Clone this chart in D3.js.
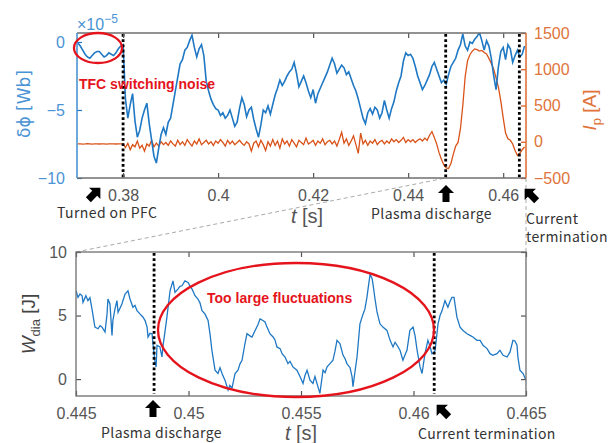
<!DOCTYPE html>
<html><head><meta charset="utf-8">
<script src="https://cdn.jsdelivr.net/npm/d3@7"></script>
<style>
body{margin:0;background:#fff;}
svg{display:block;}
.tick text{font-family:"Liberation Sans",Arial,sans-serif;font-size:16px;}
.ann{font-family:"Noto Sans CJK JP","Noto Sans",sans-serif;font-size:14px;letter-spacing:0.4px;fill:#333;}
.lbl{font-family:"Liberation Sans",Arial,sans-serif;}
</style></head><body>
<svg id="c" width="614" height="443"></svg>
<script>
// ---------- DATA ----------
const topStart = 0.3705, topStep = 0.0005;   // sampling of the upper traces (s)
const dPhi = [ // δφ ×1e-5 Wb
-0.1,-0.3,-0.6,-0.9,-1.1,-1.2,-1.0,-0.8,-0.7,-0.7,-0.9,-1.1,-1.0,-0.8,-0.9,-1.0,-0.8,-0.5,-0.3,-0.2,
-4.2,-5.6,-4.6,-3.8,-5.8,-7.0,-6.5,-5.6,-5.0,-4.5,
-6.0,-7.2,-8.4,-8.9,-7.8,-6.8,-6.3,-6.8,-5.9,-5.6,
-4.6,-3.6,-2.6,-1.6,-1.3,-0.6,-0.4,0.1,0.5,-0.4,
-1.1,-0.5,-0.2,-1.0,-2.9,-3.6,-4.2,-4.6,-4.9,-5.0,
-5.4,-5.2,-5.6,-5.4,-5.0,-5.6,-6.2,-5.9,-4.9,-4.1,
-4.6,-5.5,-5.0,-4.8,-5.7,-6.4,-7.0,-6.1,-5.0,-5.2,
-4.7,-5.3,-4.6,-3.9,-3.4,-2.8,-3.2,-2.9,-2.5,-2.2,
-2.0,-1.5,-2.3,-3.3,-2.9,-2.5,-3.0,-3.6,-4.1,-3.5,
-4.5,-3.8,-3.4,-3.0,-2.6,-2.2,-1.7,-1.2,-1.6,-2.3,
-2.0,-1.7,-1.9,-2.4,-2.2,-2.7,-3.2,-3.6,-4.2,-4.9,
-5.6,-6.0,-5.2,-4.9,-5.3,-4.8,-5.0,-5.6,-5.2,-4.3,
-5.0,-5.6,-4.9,-4.4,-3.6,-3.0,-2.5,-1.4,-0.8,-1.0,
-0.9,-1.2,-1.8,-2.5,-3.0,-3.5,-3.2,-2.8,-2.4,-1.8,
-1.5,-2.0,-2.5,-3.0,-2.8,-3.1,-2.4,-1.8,-1.5,-1.2,
-0.6,-0.2,0.6,-0.3,-0.6,0.0,-0.1,0.2,0.4,0.7,
0.1,-0.6,0.1,-0.3,-1.2,-2.5,-3.5,-1.8,-0.7,-0.4,
-1.3,-0.2,-0.5,-1.5,-1.0,-0.6,-1.1,-0.9,-0.3];
const Ip = [ // plasma current, A
-30,-28,-32,-30,-27,-30,-33,-30,-28,-31,-30,-29,-32,-30,-28,-30,-31,-29,-30,-30,
-80,-20,-110,-40,-70,10,-90,-50,-130,-30,
-60,20,-70,-20,-60,0,-40,-10,-50,10,
-30,-60,20,-40,0,-50,30,-20,-60,10,
-30,40,-40,-10,20,-30,0,-50,10,-20,
30,-10,-60,20,-30,10,-40,-10,20,-20,
-50,0,-30,-130,-20,10,-70,20,-40,-120,
0,-60,30,-50,10,-90,40,-30,10,-60,
30,-20,-70,20,-10,-40,50,-30,-10,20,
-50,10,-20,40,-40,0,20,-30,10,-60,
30,130,-20,40,-50,10,80,-40,-160,120,
-30,20,-50,10,-20,30,-40,0,20,-30,
10,-20,40,0,30,-10,20,60,-10,30,
0,30,-10,20,40,10,50,20,90,140,
60,-30,-150,-240,-320,-360,-370,-300,-170,-60,
-10,180,500,900,1120,1200,1250,1280,1270,1250,
1260,1230,1210,1150,1080,1000,880,750,560,330,
120,40,20,-30,-120,-190,-160,-110,-70];
const wTime = [0.44500,0.44509,0.44518,0.44527,0.44531,0.44544,0.44553,0.44562,0.44571,0.44584,0.44598,0.44607,0.44616,0.44629,0.44638,0.44642,0.44651,0.44660,0.44664,0.44673,0.44682,0.44687,0.44696,0.44704,0.44718,0.44731,0.44740,0.44753,0.44762,0.44771,0.44784,0.44798,0.44807,0.44816,0.44820,0.44829,0.44838,0.44842,0.44851,0.44856,0.44860,0.44873,0.44882,0.44887,0.44896,0.44904,0.44918,0.44931,0.44940,0.44953,0.44962,0.44971,0.44984,0.44998,0.45007,0.45016,0.45029,0.45042,0.45051,0.45060,0.45073,0.45087,0.45096,0.45104,0.45118,0.45131,0.45140,0.45149,0.45162,0.45176,0.45184,0.45193,0.45207,0.45220,0.45229,0.45238,0.45251,0.45260,0.45273,0.45282,0.45296,0.45309,0.45318,0.45331,0.45340,0.45349,0.45362,0.45376,0.45384,0.45393,0.45407,0.45416,0.45429,0.45442,0.45451,0.45464,0.45482,0.45496,0.45509,0.45518,0.45527,0.45540,0.45553,0.45562,0.45571,0.45584,0.45598,0.45607,0.45616,0.45629,0.45642,0.45651,0.45660,0.45673,0.45687,0.45696,0.45704,0.45718,0.45727,0.45731,0.45740,0.45749,0.45762,0.45776,0.45784,0.45793,0.45807,0.45816,0.45820,0.45829,0.45838,0.45851,0.45864,0.45882,0.45896,0.45909,0.45918,0.45927,0.45940,0.45953,0.45962,0.45971,0.45984,0.45998,0.46007,0.46016,0.46029,0.46038,0.46051,0.46064,0.46073,0.46082,0.46091,0.46096,0.46109,0.46118,0.46127,0.46140,0.46153,0.46162,0.46171,0.46180,0.46193,0.46207,0.46220,0.46238,0.46251,0.46264,0.46282,0.46296,0.46309,0.46327,0.46340,0.46353,0.46371,0.46384,0.46398,0.46416,0.46429,0.46442,0.46451,0.46460,0.46464,0.46473,0.46487,0.46500];
const wDia = [6.95,6.43,6.7,6.56,6.04,6.56,6.17,6.4,5.52,4.09,3.96,4.2,4.09,3.70,5.13,6.30,5.91,3.44,4.61,5.5,6.17,5.26,5.6,5.91,6.69,6.95,6.30,5.65,5.8,5.39,5.13,4.87,4.6,4.09,3.31,3.6,3.57,2.79,1.35,0.96,2.66,2.53,1.74,2.66,3.8,4.87,6.95,7.73,6.82,7.08,7.3,7.34,7.73,7.60,7.3,7.08,6.56,6.30,6.0,5.39,5.13,4.61,3.5,2.27,0.70,0.44,0.9,0.44,-0.08,-0.86,-0.5,-0.73,0.44,0.70,1.2,1.48,2.8,3.57,3.4,3.31,3.83,4.3,4.74,4.61,4.5,4.09,3.57,3.31,3.1,2.53,2.4,2.0,1.74,1.22,1.4,0.96,0.70,0.18,-0.34,0.3,0.70,-0.08,-0.34,0.2,-0.34,-1.12,0.70,0.5,0.96,1.22,1.48,2.2,3.05,2.8,1.87,1.6,1.22,0.9,0.18,-0.6,0.6,1.74,4.35,5.13,5.5,6.43,8.26,7.9,7.47,6.3,5.26,4.35,4.09,3.83,3.05,2.53,2.9,2.66,2.27,1.48,1.9,2.27,3.83,4.09,3.4,2.27,0.96,0.44,2.0,3.05,2.6,2.0,2.1,2.27,4.35,5.0,5.39,6.17,5.65,6.1,6.43,6.43,4.87,4.09,3.83,3.57,3.44,3.31,3.05,3.05,2.66,2.40,2.0,1.87,2.0,2.27,1.87,1.74,2.14,3.05,3.0,2.66,1.74,0.70,0.44,-0.08];

const topXTicks = [0.38,0.40,0.42,0.44,0.46];
const topXLabels = ["0.38","0.4","0.42","0.44","0.46"];
const leftTicks = [0,-5,-10];
const rightTicks = [-500,0,500,1000,1500];
const botXTicks = [0.445,0.45,0.455,0.46,0.465];
const botXLabels = ["0.445","0.45","0.455","0.46","0.465"];
const botYTicks = [0,5,10];
const topEvents = [0.38,0.4479,0.4634];   // dotted markers (upper)
const botEvents = [0.44847,0.46092];      // dotted markers (lower)

// ---------- DRAW ----------
const svg = d3.select("#c");
const BLUE="#1f78c4", BLUET="#4a93d4", ORANGE="#d95319", ORANGET="#e0743a", GRAY="#6e6e6e", RED="#e5141c";

const xT = d3.scaleLinear().domain([0.3703,0.4648]).range([77,526]);
const yL = d3.scaleLinear().domain([-10,0.66]).range([178,33]);
const yR = d3.scaleLinear().domain([-500,1500]).range([178,33]);
const xB = d3.scaleLinear().domain([0.445,0.465]).range([76,526]);
const yB = d3.scaleLinear().domain([-1.33,10]).range([396,252]);

const topT = dPhi.map((_,i)=>topStart+topStep*i);

// connectors
svg.append("line").attr("x1",xB(0.445)).attr("y1",yB(10)).attr("x2",xT(0.4479)).attr("y2",178)
  .attr("stroke","#aaa").attr("stroke-width",1).attr("stroke-dasharray","4,3");
svg.append("line").attr("x1",xB(0.465)).attr("y1",yB(10)).attr("x2",xT(0.4648)).attr("y2",178)
  .attr("stroke","#aaa").attr("stroke-width",1).attr("stroke-dasharray","4,3");

// clip
const defs = svg.append("defs");
defs.append("clipPath").attr("id","clipT").append("rect").attr("x",77).attr("y",33).attr("width",449).attr("height",145);
defs.append("clipPath").attr("id","clipB").append("rect").attr("x",76).attr("y",252).attr("width",450).attr("height",144);

// top lines
const gT = svg.append("g").attr("clip-path","url(#clipT)");
gT.append("path").datum(Ip).attr("fill","none").attr("stroke",ORANGE).attr("stroke-width",1.3)
  .attr("d",d3.line().x((d,i)=>xT(topT[i])).y(d=>yR(d)));
gT.append("path").datum(dPhi).attr("fill","none").attr("stroke",BLUE).attr("stroke-width",1.6)
  .attr("d",d3.line().x((d,i)=>xT(topT[i])).y(d=>yL(d)));
topEvents.forEach(t=>{
  svg.append("line").attr("x1",xT(t)).attr("x2",xT(t)).attr("y1",34).attr("y2",178)
   .attr("stroke","#000").attr("stroke-width",2.8).attr("stroke-dasharray","2.8,2.4");
});

// top axes
function styleAxis(g,color){
  g.select(".domain").remove();
  g.selectAll(".tick line").attr("stroke",color).attr("stroke-width",1.2);
  g.selectAll(".tick text").attr("fill",color);
}
let g;
g = svg.append("g").attr("transform","translate(0,178)")
  .call(d3.axisBottom(xT).tickValues(topXTicks).tickFormat((d,i)=>topXLabels[i]).tickSize(-5).tickPadding(12));
styleAxis(g,"#555");
g = svg.append("g").attr("transform","translate(0,33)")
  .call(d3.axisTop(xT).tickValues(topXTicks).tickSize(-5).tickFormat(""));
styleAxis(g,"#555");
g = svg.append("g").attr("transform","translate(77,0)")
  .call(d3.axisLeft(yL).tickValues(leftTicks).tickFormat(d3.format("d")).tickSize(-5).tickPadding(12));
styleAxis(g,BLUET); g.selectAll(".tick line").attr("stroke",BLUE);
g = svg.append("g").attr("transform","translate(526,0)")
  .call(d3.axisRight(yR).tickValues(rightTicks).tickFormat(d3.format("d")).tickSize(-5).tickPadding(8));
styleAxis(g,ORANGET); g.selectAll(".tick line").attr("stroke",ORANGE);
// frame
svg.append("line").attr("x1",77).attr("x2",526).attr("y1",33).attr("y2",33).attr("stroke",GRAY).attr("stroke-width",1.3);
svg.append("line").attr("x1",77).attr("x2",526).attr("y1",178).attr("y2",178).attr("stroke",GRAY).attr("stroke-width",1.3);
svg.append("line").attr("x1",77).attr("x2",77).attr("y1",33).attr("y2",178).attr("stroke",BLUET).attr("stroke-width",1.6);
svg.append("line").attr("x1",526).attr("x2",526).attr("y1",33).attr("y2",178).attr("stroke",ORANGET).attr("stroke-width",1.6);

// top labels
const xl = svg.append("text").attr("class","lbl").attr("x",77).attr("y",30).attr("fill",BLUET).style("font-size","16px");
xl.append("tspan").text("×10");
xl.append("tspan").attr("dy",-7).style("font-size","12px").text("−5");
svg.append("text").attr("transform","translate(30,104) rotate(-90)").attr("text-anchor","middle")
  .attr("fill",BLUET).style("font-family","DejaVu Sans,sans-serif").style("font-size","17px").text("δϕ [Wb]");
const ipl = svg.append("text").attr("class","lbl").attr("transform","translate(596,110) rotate(-90)").attr("text-anchor","middle")
  .attr("fill",ORANGET).style("font-size","19px");
ipl.append("tspan").style("font-style","italic").text("I");
ipl.append("tspan").attr("dy",5).style("font-size","13px").text("p");
ipl.append("tspan").attr("dy",-5).text(" [A]");
const tl1 = svg.append("text").attr("class","lbl").attr("x",307).attr("y",223).attr("text-anchor","middle").attr("fill","#555")
  .style("font-size","20px");
tl1.append("tspan").style("font-style","italic").text("t");
tl1.append("tspan").text(" [s]");

// red annotation top
svg.append("ellipse").attr("cx",98).attr("cy",48).attr("rx",24).attr("ry",15)
  .attr("fill","none").attr("stroke",RED).attr("stroke-width",2.3);
svg.append("text").attr("class","lbl").attr("x",79).attr("y",89).attr("fill",RED)
  .style("font-weight","bold").style("font-size","14px").text("TFC switching noise");

// arrows
function arrow(cx,cy,ang){
  svg.append("path").attr("d","M0,-9 L8,-1 L3.5,-1 L3.5,8 L-3.5,8 L-3.5,-1 L-8,-1 Z")
    .attr("fill","#000").attr("transform",`translate(${cx},${cy}) rotate(${ang})`);
}
arrow(94,194,45); arrow(446,194,0); arrow(531,195,-45);
arrow(153,409,0); arrow(443,411,-45);

svg.append("text").attr("class","ann").attr("x",57).attr("y",218).text("Turned on PFC");
svg.append("text").attr("class","ann").attr("x",371).attr("y",219).text("Plasma discharge");
svg.append("text").attr("class","ann").attr("x",526).attr("y",224).text("Current");
svg.append("text").attr("class","ann").attr("x",526).attr("y",242).text("termination");

// bottom line
const gB = svg.append("g").attr("clip-path","url(#clipB)");
gB.append("path").datum(wDia).attr("fill","none").attr("stroke",BLUE).attr("stroke-width",1.3)
  .attr("d",d3.line().x((d,i)=>xB(wTime[i])).y(d=>yB(d)));
botEvents.forEach(t=>{
  svg.append("line").attr("x1",xB(t)).attr("x2",xB(t)).attr("y1",253).attr("y2",394)
   .attr("stroke","#000").attr("stroke-width",2.8).attr("stroke-dasharray","2.8,2.4");
});
g = svg.append("g").attr("transform","translate(0,396)")
  .call(d3.axisBottom(xB).tickValues(botXTicks).tickFormat((d,i)=>botXLabels[i]).tickSize(-5).tickPadding(12));
styleAxis(g,"#555");
g = svg.append("g").attr("transform","translate(0,252)")
  .call(d3.axisTop(xB).tickValues(botXTicks).tickSize(-5).tickFormat(""));
styleAxis(g,"#555");
g = svg.append("g").attr("transform","translate(76,0)")
  .call(d3.axisLeft(yB).tickValues(botYTicks).tickSize(-5).tickPadding(9));
styleAxis(g,"#555");
g = svg.append("g").attr("transform","translate(526,0)")
  .call(d3.axisRight(yB).tickValues(botYTicks).tickSize(-5).tickFormat(""));
styleAxis(g,"#555");
svg.append("rect").attr("x",76).attr("y",252).attr("width",450).attr("height",144)
  .attr("fill","none").attr("stroke",GRAY).attr("stroke-width",1.3);

const wl = svg.append("text").attr("class","lbl").attr("transform","translate(35,324) rotate(-90)").attr("text-anchor","middle")
  .attr("fill","#444").style("font-size","19px");
wl.append("tspan").style("font-style","italic").text("W");
wl.append("tspan").attr("dy",5).style("font-size","13px").text("dia");
wl.append("tspan").attr("dy",-5).text(" [J]");
const tl2 = svg.append("text").attr("class","lbl").attr("x",301).attr("y",440).attr("text-anchor","middle").attr("fill","#555")
  .style("font-size","20px");
tl2.append("tspan").style("font-style","italic").text("t");
tl2.append("tspan").text(" [s]");

svg.append("ellipse").attr("cx",296).attr("cy",330).attr("rx",138).attr("ry",67)
  .attr("fill","none").attr("stroke",RED).attr("stroke-width",2.3);
svg.append("text").attr("class","lbl").attr("x",207).attr("y",303).attr("fill",RED)
  .style("font-weight","bold").style("font-size","14px").text("Too large fluctuations");
svg.append("text").attr("class","ann").attr("x",101).attr("y",438).text("Plasma discharge");
svg.append("text").attr("class","ann").attr("x",418).attr("y",439).text("Current termination");
</script></body></html>
